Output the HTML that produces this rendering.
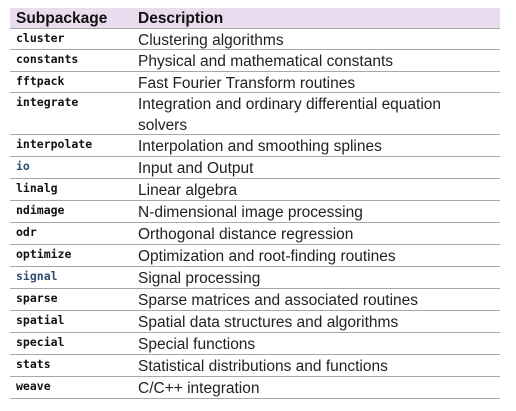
<!DOCTYPE html>
<html><head><style>
body{margin:0;background:#fff;width:516px;height:411px;position:relative;overflow:hidden}
.r{position:absolute;left:10px;width:490px;border-bottom:1px solid #a8a8a8;box-sizing:border-box}
.h{background:#e9dcee;border-bottom:1px solid #a8a8a8}
.k{position:absolute;left:6px;top:2px;font:bold 11.5px "DejaVu Sans Mono",monospace;color:#111}
.d{position:absolute;left:128px;top:1px;font:15.5px/21px "Liberation Sans",sans-serif;color:#222;width:360px;white-space:nowrap}
.h .k,.h .d{font:bold 15.5px/21px "Liberation Sans",sans-serif;color:#111;top:0}
.l{color:#2f4e70!important}
</style></head><body>
<div class="r h" style="top:8px;height:21px"><span class="k">Subpackage</span><span class="d">Description</span></div>
<div class="r" style="top:29px;height:21px"><span class="k">cluster</span><span class="d">Clustering algorithms</span></div>
<div class="r" style="top:50px;height:22px"><span class="k">constants</span><span class="d">Physical and mathematical constants</span></div>
<div class="r" style="top:72px;height:21px"><span class="k">fftpack</span><span class="d">Fast Fourier Transform routines</span></div>
<div class="r" style="top:93px;height:42px"><span class="k">integrate</span><span class="d">Integration and ordinary differential equation<br>solvers</span></div>
<div class="r" style="top:135px;height:22px"><span class="k">interpolate</span><span class="d">Interpolation and smoothing splines</span></div>
<div class="r" style="top:157px;height:22px"><span class="k l">io</span><span class="d">Input and Output</span></div>
<div class="r" style="top:179px;height:22px"><span class="k">linalg</span><span class="d">Linear algebra</span></div>
<div class="r" style="top:201px;height:22px"><span class="k">ndimage</span><span class="d">N-dimensional image processing</span></div>
<div class="r" style="top:223px;height:22px"><span class="k">odr</span><span class="d">Orthogonal distance regression</span></div>
<div class="r" style="top:245px;height:22px"><span class="k">optimize</span><span class="d">Optimization and root-finding routines</span></div>
<div class="r" style="top:267px;height:22px"><span class="k l">signal</span><span class="d">Signal processing</span></div>
<div class="r" style="top:289px;height:22px"><span class="k">sparse</span><span class="d">Sparse matrices and associated routines</span></div>
<div class="r" style="top:311px;height:22px"><span class="k">spatial</span><span class="d">Spatial data structures and algorithms</span></div>
<div class="r" style="top:333px;height:22px"><span class="k">special</span><span class="d">Special functions</span></div>
<div class="r" style="top:355px;height:22px"><span class="k">stats</span><span class="d">Statistical distributions and functions</span></div>
<div class="r" style="top:377px;height:22px"><span class="k">weave</span><span class="d">C/C++ integration</span></div>
</body></html>
